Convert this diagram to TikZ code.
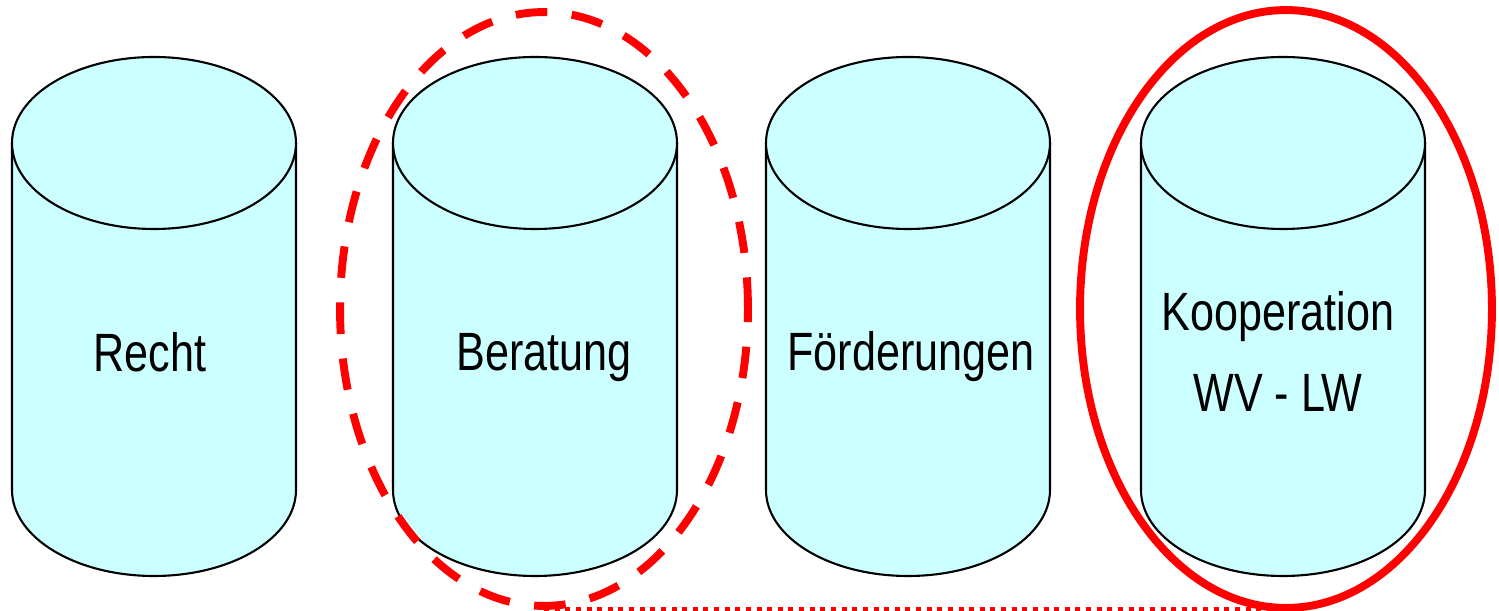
\documentclass[tikz,border=0pt]{standalone}
\usepackage{fontspec}
\setmainfont{Liberation Sans}
\newfontfamily\schmal[FakeStretch=0.8]{Liberation Sans}
\usetikzlibrary{shapes}

\definecolor{zylcyan}{HTML}{CCFFFF}
\tikzset{
  zylinder/.style={fill=zylcyan,draw=black,line width=1.2pt},
  beschrift/.style={font=\schmal\fontsize{30.7}{46.6}\selectfont,align=center,inner sep=0pt},
  kreis/.style={ellipse,draw=red,line width=4.5pt,inner sep=0pt}
}

\begin{document}
\begin{tikzpicture}[x=0.02cm,y=0.02cm]
\useasboundingbox (0,0) rectangle (1499,611);

\foreach \cx in {154,535,908,1283}{
  \draw[zylinder] (\cx-142,468) -- (\cx-142,121) arc (180:360:142 and 86) -- (\cx+142,468);
  \draw[zylinder] (\cx,468) ellipse (142 and 86);
}

\node(recht) at (150,239) [beschrift,anchor=base]{Recht};
\node(beratung) at (544,240) [beschrift,anchor=base]{Beratung};
\node(foerderung) at (911,240) [beschrift,anchor=base]{Förderungen};
\node(koop) at (1278,259.5) [beschrift]{Kooperation\\WV - LW};

\node(beratungkreis) at (544,302) [kreis,dash pattern=on 18pt off 14pt,minimum width=8.16cm,minimum height=11.88cm]{};
\node(koopkreis) at (1286,302) [kreis,minimum width=8.24cm,minimum height=11.96cm]{};

\draw[red,line width=2.8pt,dash pattern=on 2.85pt off 3.2pt] (beratungkreis.south) -- (beratungkreis.south -| koopkreis.south);
\end{tikzpicture}
\end{document}
